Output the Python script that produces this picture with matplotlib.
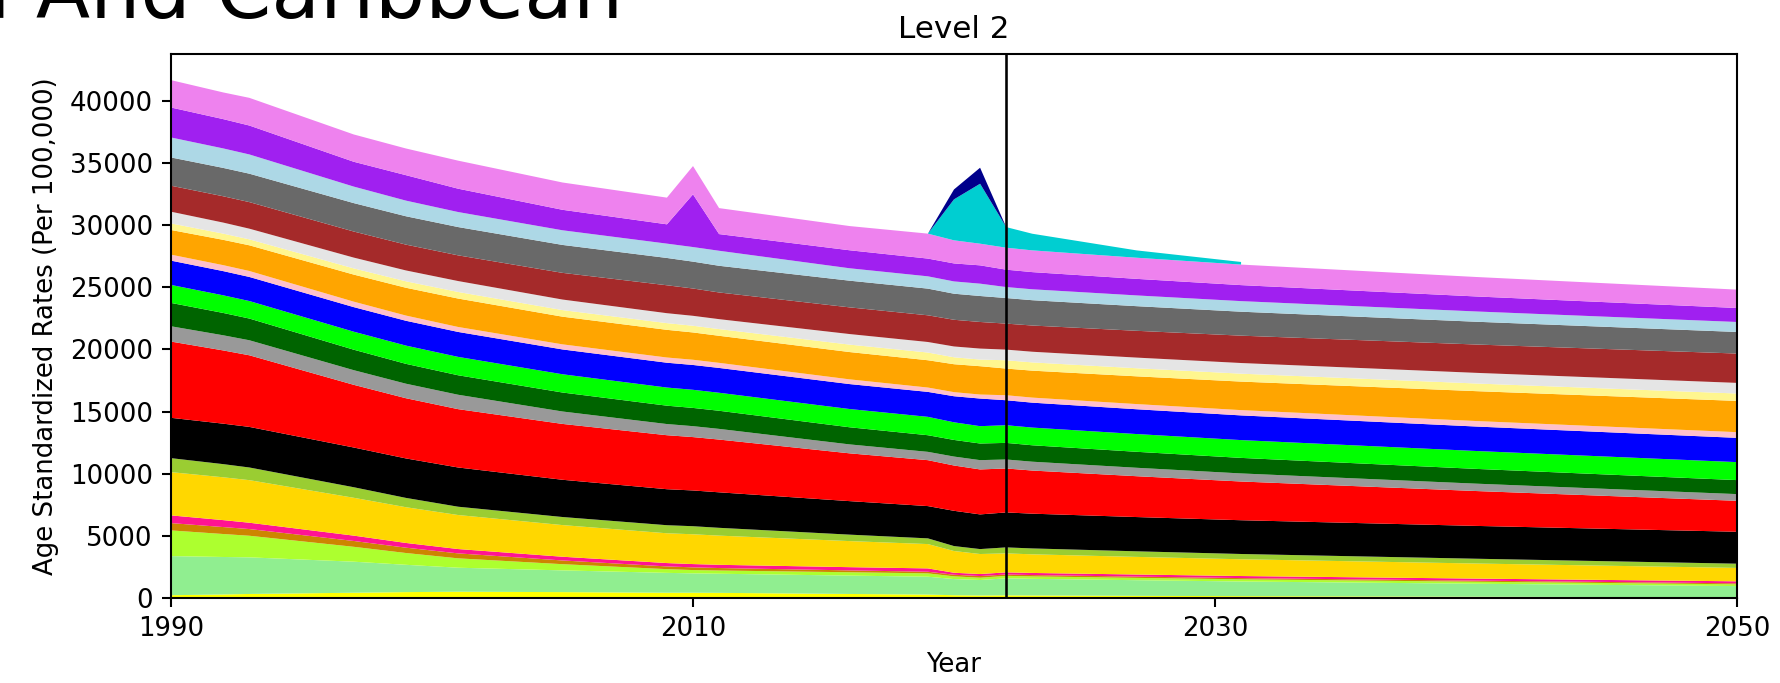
"""Stacked age-standardized rates, Latin America And Caribbean, level 2."""

import matplotlib

matplotlib.use("Agg")

import matplotlib.pyplot as plt  # noqa: E402
import numpy as np  # noqa: E402

nan = np.nan

# historical estimates and projection share the year 2022
years_hist = [1990, 1992, 1993, 1997, 1999, 2001, 2005, 2009, 2010, 2011, 2016, 2019, 2020, 2021, 2022]
years_proj = [2022, 2023, 2027, 2031, 2040, 2050]

# layer thickness (rate per 100,000), bottom to top
yellow_hist = [200, 260, 300, 400, 450, 480, 450, 400, 400, 390, 300, 250, 200, 180, 190]
yellow_proj = [190, 180, 150, 125, 80, 30]
lightgreen_hist = [3150, 3020, 2950, 2500, 2200, 1935, 1750, 1600, 1560, 1540, 1480, 1440, 1300, 1245, 1370]
lightgreen_proj = [1370, 1340, 1260, 1180, 1045, 905]
greenyellow_hist = [2070, 1850, 1740, 1200, 950, 755, 500, 300, 266, 260, 270, 270, 220, 185, 200]
greenyellow_proj = [200, 196, 186, 177, 160, 143]
ochre_hist = [590, 560, 540, 470, 430, 400, 300, 220, 218, 200, 150, 130, 130, 134, 110]
ochre_proj = [110, 108, 103, 98, 90, 81]
deeppink_hist = [620, 560, 510, 430, 380, 350, 300, 270, 265, 260, 260, 270, 160, 163, 170]
deeppink_proj = [170, 170, 168, 166, 164, 161]
gold_hist = [3485, 3450, 3430, 3050, 2880, 2740, 2550, 2400, 2400, 2350, 2100, 1960, 1750, 1612, 1530]
gold_proj = [1530, 1500, 1420, 1350, 1215, 1080]
yellowgreen_hist = [1127, 1060, 1020, 850, 750, 670, 650, 650, 650, 630, 520, 460, 400, 398, 483]
yellowgreen_proj = [483, 475, 450, 425, 385, 340]
black_hist = [3249, 3260, 3270, 3200, 3180, 3160, 3000, 2900, 2880, 2860, 2700, 2600, 2840, 2793, 2817]
black_proj = [2817, 2800, 2760, 2720, 2645, 2572]
red_hist = [6143, 5900, 5770, 5050, 4850, 4700, 4500, 4350, 4300, 4250, 3850, 3700, 3650, 3623, 3541]
red_proj = [3541, 3475, 3290, 3120, 2810, 2495]
darkgray_hist = [1232, 1220, 1210, 1180, 1170, 1160, 1000, 900, 880, 860, 720, 670, 720, 749, 724]
darkgray_proj = [724, 712, 680, 650, 594, 539]
darkgreen_hist = [1882, 1800, 1750, 1650, 1600, 1570, 1530, 1480, 1470, 1460, 1380, 1340, 1340, 1340, 1337]
darkgreen_proj = [1337, 1324, 1287, 1252, 1190, 1127]
lime_hist = [1449, 1420, 1410, 1450, 1470, 1480, 1470, 1460, 1460, 1450, 1470, 1480, 1420, 1397, 1424]
lime_proj = [1424, 1425, 1430, 1434, 1441, 1449]
blue_hist = [1957, 1950, 1940, 1980, 2000, 2010, 2000, 2000, 2000, 2000, 2010, 2010, 2100, 2225, 2012]
blue_proj = [2012, 2008, 1998, 1989, 1972, 1955]
pink_hist = [482, 480, 480, 440, 420, 400, 410, 420, 420, 410, 380, 350, 330, 323, 403]
pink_proj = [403, 407, 416, 426, 442, 459]
orange_hist = [1988, 2040, 2070, 2180, 2240, 2290, 2230, 2230, 2200, 2180, 2200, 2200, 2250, 2283, 2148]
orange_proj = [2148, 2172, 2236, 2298, 2408, 2519]
khaki_hist = [530, 500, 480, 500, 520, 530, 530, 540, 540, 540, 600, 620, 560, 534, 669]
khaki_proj = [669, 664, 651, 639, 617, 595]
lightgray_hist = [942, 890, 860, 870, 875, 880, 850, 800, 800, 800, 850, 850, 870, 886, 859]
lightgray_proj = [859, 859, 858, 858, 857, 856]
brown_hist = [2093, 2120, 2140, 2100, 2080, 2070, 2150, 2250, 2200, 2150, 2150, 2150, 2150, 2143, 2095]
brown_proj = [2095, 2112, 2159, 2204, 2283, 2364]
dimgray_hist = [2278, 2285, 2290, 2290, 2285, 2280, 2250, 2200, 2165, 2150, 2150, 2150, 2100, 2093, 2060]
dimgray_proj = [2060, 2040, 1984, 1930, 1835, 1739]
lightblue_hist = [1610, 1570, 1550, 1330, 1260, 1210, 1180, 1155, 1175, 1210, 1000, 990, 990, 994, 885]
lightblue_proj = [885, 880, 866, 852, 828, 804]
purple_hist = [2414, 2360, 2330, 2000, 2050, 1880, 1650, 1555, 4246, 1343, 1450, 1430, 1450, 1475, 1400]
purple_proj = [1400, 1383, 1335, 1290, 1209, 1127]
violet_hist = [2205, 2150, 2230, 2200, 2150, 2260, 2200, 2150, 2280, 2093, 1950, 2010, 1860, 1745, 1771]
violet_proj = [1771, 1752, 1702, 1654, 1568, 1481]
turquoise_hist = [nan, nan, nan, nan, nan, nan, nan, nan, nan, nan, nan, 0, 3300, 4830, 1658]
turquoise_proj = [1658, 1340, 590, 210, nan, nan]
navy_hist = [nan, nan, nan, nan, nan, nan, nan, nan, nan, nan, nan, 0, 800, 1290, 0]

colors = ["#ffff00", "#90ee90", "#adff2f", "#cd8500", "#ff1493", "#ffd700",
          "#9acd32", "#000000", "#ff0000", "#999999", "#006400", "#00ff00",
          "#0000ff", "#ffc0cb", "#ffa500", "#fff68f", "#e5e5e5", "#a52a2a",
          "#696969", "#add8e6", "#a020f0", "#ee82ee", "#00ced1", "#00008b"]

hist_layers = [yellow_hist, lightgreen_hist, greenyellow_hist, ochre_hist, deeppink_hist,
               gold_hist, yellowgreen_hist, black_hist, red_hist, darkgray_hist,
               darkgreen_hist, lime_hist, blue_hist, pink_hist, orange_hist, khaki_hist,
               lightgray_hist, brown_hist, dimgray_hist, lightblue_hist, purple_hist,
               violet_hist, turquoise_hist, navy_hist]
proj_layers = [yellow_proj, lightgreen_proj, greenyellow_proj, ochre_proj, deeppink_proj,
               gold_proj, yellowgreen_proj, black_proj, red_proj, darkgray_proj,
               darkgreen_proj, lime_proj, blue_proj, pink_proj, orange_proj, khaki_proj,
               lightgray_proj, brown_proj, dimgray_proj, lightblue_proj, purple_proj,
               violet_proj, turquoise_proj]

DPI = 187
fig = plt.figure(figsize=(1780 / DPI, 683 / DPI), dpi=DPI)
ax = fig.add_axes([0.0961, 0.1249, 0.9758 - 0.0961, 0.9209 - 0.1249])

ax.stackplot(years_hist, np.array(hist_layers, dtype=float), colors=colors)
ax.stackplot(years_proj, np.array(proj_layers, dtype=float), colors=colors[:len(proj_layers)])
ax.axvline(2022, color="black", linewidth=1.0)

ax.set_xlim(1990, 2050)
ax.set_ylim(0, 43800)
ax.set_xticks([1990, 2010, 2030, 2050])
ax.set_yticks(np.arange(0, 40001, 5000))
ax.set_xlabel("Year")
ax.set_ylabel("Age Standardized Rates (Per 100,000)")
ax.set_title("Level 2")

# region name is wider than the space left of the axes, so it runs off the edge
fig.text(623 / 1780, 1 - 18 / 683, "Latin America And Caribbean",
         ha="right", va="baseline", fontsize=30.5)

fig.savefig("out.png", dpi=DPI)
plt.close(fig)
